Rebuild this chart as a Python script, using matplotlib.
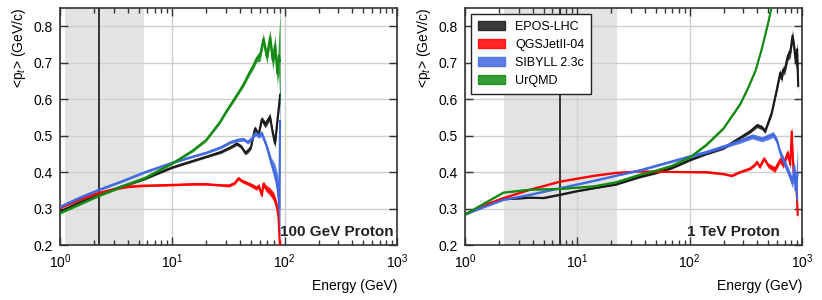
import matplotlib
matplotlib.use('Agg')
import matplotlib.pyplot as plt
from matplotlib.patches import Patch

plt.rcParams['font.family'] = ['Liberation Sans', 'DejaVu Sans']
plt.rcParams['mathtext.fontset'] = 'custom'
plt.rcParams['mathtext.rm'] = 'Liberation Sans'
plt.rcParams['mathtext.it'] = 'Liberation Sans:italic'
plt.rcParams['font.size'] = 10

models = ['EPOS-LHC', 'QGSJetII-04', 'SIBYLL 2.3c', 'UrQMD']
colors = ['#1a1a1a', '#ff0000', '#4169e1', '#128a12']

# ---- 100 GeV proton ----
e100_epos = [1, 1.5, 2.2, 3.5, 5.6, 10, 15, 20, 27, 33, 37.5, 41, 44.5, 47, 50, 54.5, 58.5, 62.6, 67, 74, 78, 82, 86, 89.5, 91]
pt100_epos = [0.292, 0.317, 0.338, 0.36, 0.381, 0.413, 0.43, 0.442, 0.455, 0.468, 0.478, 0.47, 0.453, 0.458, 0.468, 0.52, 0.502, 0.545, 0.53, 0.552, 0.51, 0.478, 0.54, 0.59, 0.612]
err100_epos = [0.003, 0.003, 0.003, 0.003, 0.003, 0.003, 0.003, 0.003, 0.004, 0.004, 0.005, 0.005, 0.006, 0.006, 0.006, 0.007, 0.007, 0.008, 0.009, 0.01, 0.01, 0.012, 0.014, 0.016, 0.02]

e100_qgs = [1, 1.5, 2.2, 3, 4, 5.6, 8, 10, 15, 20, 27, 32, 36, 38.7, 42, 46, 52, 56, 59, 62.6, 64.6, 68, 72, 76, 80, 85, 88, 90.5]
pt100_qgs = [0.302, 0.325, 0.343, 0.353, 0.36, 0.363, 0.364, 0.365, 0.367, 0.367, 0.364, 0.363, 0.37, 0.383, 0.375, 0.37, 0.362, 0.356, 0.362, 0.336, 0.368, 0.356, 0.35, 0.342, 0.332, 0.306, 0.278, 0.2]
err100_qgs = [0.003, 0.003, 0.003, 0.003, 0.003, 0.003, 0.003, 0.003, 0.003, 0.003, 0.003, 0.004, 0.004, 0.005, 0.005, 0.005, 0.006, 0.006, 0.007, 0.007, 0.008, 0.009, 0.01, 0.011, 0.012, 0.014, 0.016, 0.02]

e100_sib = [1, 1.5, 2.2, 3.5, 5.6, 10, 15, 20, 27, 33, 38, 43, 47, 51, 55, 58.7, 62.6, 69, 76, 82, 87, 89.5, 91]
pt100_sib = [0.305, 0.33, 0.351, 0.374, 0.399, 0.426, 0.442, 0.453, 0.468, 0.482, 0.488, 0.49, 0.482, 0.492, 0.506, 0.5, 0.506, 0.471, 0.425, 0.397, 0.355, 0.3, 0.54]
err100_sib = [0.003, 0.003, 0.003, 0.003, 0.003, 0.003, 0.003, 0.003, 0.004, 0.004, 0.005, 0.005, 0.005, 0.006, 0.006, 0.007, 0.008, 0.01, 0.015, 0.025, 0.035, 0.06, 0.32]

e100_urqmd = [1, 1.5, 2.2, 3, 3.5, 5.6, 10, 15, 20, 26.6, 30, 35, 40, 43, 49, 52.6, 56.4, 60.3, 64.5, 69.4, 74, 78.3, 82, 86, 88.5, 91]
pt100_urqmd = [0.288, 0.312, 0.335, 0.351, 0.36, 0.383, 0.424, 0.458, 0.488, 0.538, 0.565, 0.597, 0.625, 0.641, 0.675, 0.692, 0.712, 0.718, 0.765, 0.715, 0.77, 0.705, 0.748, 0.67, 0.72, 0.705]
err100_urqmd = [0.003, 0.003, 0.003, 0.003, 0.003, 0.003, 0.003, 0.004, 0.004, 0.005, 0.005, 0.006, 0.006, 0.007, 0.008, 0.009, 0.01, 0.014, 0.016, 0.018, 0.022, 0.025, 0.028, 0.03, 0.05, 0.14]

# ---- 1 TeV proton ----
e1000_epos = [1, 1.5, 2.2, 3, 3.8, 5, 7, 10, 14, 22, 36, 50, 70, 100, 140, 200, 280, 346, 398, 440, 469, 538, 597, 640, 660, 680, 700, 747, 785, 822, 855, 880, 905, 925]
pt1000_epos = [0.285, 0.307, 0.326, 0.328, 0.33, 0.329, 0.338, 0.348, 0.356, 0.366, 0.387, 0.398, 0.412, 0.433, 0.45, 0.466, 0.494, 0.512, 0.528, 0.522, 0.512, 0.563, 0.627, 0.673, 0.655, 0.682, 0.678, 0.719, 0.727, 0.774, 0.737, 0.7, 0.737, 0.636]
err1000_epos = [0.002, 0.002, 0.002, 0.002, 0.002, 0.002, 0.002, 0.002, 0.002, 0.002, 0.003, 0.003, 0.003, 0.003, 0.003, 0.004, 0.004, 0.005, 0.006, 0.006, 0.006, 0.007, 0.008, 0.01, 0.01, 0.011, 0.012, 0.013, 0.014, 0.016, 0.018, 0.02, 0.02, 0.02]

e1000_qgs = [1, 1.5, 2.2, 3.8, 7, 14, 22, 36, 60, 100, 141, 200, 237, 281, 346, 380, 398, 420, 460, 500, 573, 640, 680, 747, 785, 810, 840, 865, 895, 915]
pt1000_qgs = [0.283, 0.31, 0.329, 0.352, 0.374, 0.39, 0.398, 0.402, 0.401, 0.4, 0.4, 0.395, 0.39, 0.4, 0.41, 0.42, 0.428, 0.414, 0.437, 0.418, 0.407, 0.434, 0.42, 0.453, 0.42, 0.512, 0.398, 0.39, 0.35, 0.283]
err1000_qgs = [0.002, 0.002, 0.002, 0.002, 0.002, 0.002, 0.002, 0.002, 0.002, 0.002, 0.003, 0.003, 0.003, 0.003, 0.004, 0.004, 0.005, 0.005, 0.006, 0.007, 0.008, 0.009, 0.01, 0.01, 0.012, 0.014, 0.015, 0.016, 0.018, 0.02]

e1000_sib = [1, 1.5, 2.2, 3.8, 7, 14, 22, 36, 60, 100, 140, 200, 281, 360, 440, 500, 555, 600, 640, 700, 785, 822, 855, 875, 912]
pt1000_sib = [0.284, 0.305, 0.324, 0.338, 0.356, 0.376, 0.39, 0.405, 0.424, 0.443, 0.455, 0.47, 0.485, 0.498, 0.49, 0.497, 0.503, 0.485, 0.453, 0.425, 0.388, 0.37, 0.416, 0.35, 0.395]
err1000_sib = [0.002, 0.002, 0.002, 0.002, 0.002, 0.002, 0.002, 0.003, 0.003, 0.004, 0.004, 0.005, 0.006, 0.007, 0.007, 0.008, 0.008, 0.009, 0.01, 0.011, 0.013, 0.015, 0.018, 0.025, 0.075]

e1000_urqmd = [1, 1.5, 2.2, 3.8, 7, 14, 22, 36, 50, 70, 100, 141, 200, 281, 330, 385, 440, 500, 560]
pt1000_urqmd = [0.284, 0.315, 0.344, 0.352, 0.354, 0.361, 0.372, 0.393, 0.404, 0.418, 0.44, 0.475, 0.52, 0.586, 0.63, 0.678, 0.74, 0.81, 0.88]
err1000_urqmd = [0.002, 0.002, 0.002, 0.002, 0.002, 0.002, 0.002, 0.002, 0.002, 0.002, 0.002, 0.003, 0.003, 0.003, 0.003, 0.004, 0.004, 0.004, 0.004]

panels = [
    dict(data=[(e100_epos, pt100_epos, err100_epos), (e100_qgs, pt100_qgs, err100_qgs),
               (e100_sib, pt100_sib, err100_sib), (e100_urqmd, pt100_urqmd, err100_urqmd)],
         span=(1.11, 5.6), vline=2.24, label='100 GeV Proton', tx=0.99),
    dict(data=[(e1000_epos, pt1000_epos, err1000_epos), (e1000_qgs, pt1000_qgs, err1000_qgs),
               (e1000_sib, pt1000_sib, err1000_sib), (e1000_urqmd, pt1000_urqmd, err1000_urqmd)],
         span=(2.24, 22.4), vline=7.07, label='1 TeV Proton', tx=0.935),
]

fig = plt.figure(figsize=(8.22, 3.0), dpi=100)
lefts = [0.073, 0.5657]

for i, p in enumerate(panels):
    ax = fig.add_axes([lefts[i], 0.1833, 0.41, 0.79])
    ax.set_xscale('log')
    ax.axvspan(*p['span'], color='0.6', alpha=0.27, lw=0, zorder=0)
    ax.axvline(p['vline'], color='#333333', lw=1.4, zorder=1)
    for (e, pt, err), c in zip(p['data'], colors):
        lo = [v - d for v, d in zip(pt, err)]
        hi = [v + d for v, d in zip(pt, err)]
        ax.fill_between(e, lo, hi, color=c, alpha=0.85, lw=0, zorder=3)
        ax.plot(e, pt, color=c, lw=1.5, zorder=3)
    ax.set_xlim(1, 1000)
    ax.set_ylim(0.2, 0.85)
    ax.set_yticks([0.2, 0.3, 0.4, 0.5, 0.6, 0.7, 0.8])
    ax.set_axisbelow(True)
    ax.grid(True, which='major', color='#cfcfcf', lw=1)
    ax.tick_params(which='both', direction='in', top=True, right=True, color='#333333', width=1)
    ax.tick_params(which='major', length=6, labelsize=10, pad=5)
    ax.tick_params(which='minor', length=3.5)
    for s in ax.spines.values():
        s.set_color('#333333')
        s.set_linewidth(1.2)
    ax.set_ylabel(r'<p$_t$> (GeV/c)', fontsize=10, loc='top', labelpad=4)
    ax.set_xlabel('Energy (GeV)', fontsize=10, loc='right', labelpad=6)
    ax.text(p['tx'], 0.055, p['label'], transform=ax.transAxes, ha='right', va='center',
            fontsize=11, fontweight='bold', color='#222222', zorder=5)
    if i == 1:
        handles = [Patch(facecolor=c, edgecolor=c, alpha=0.85) for c in colors]
        leg = ax.legend(handles, models, loc='upper left', fontsize=9, fancybox=False,
                        framealpha=1, edgecolor='#222222', handlelength=2.2, handleheight=0.75,
                        borderaxespad=0.5, labelspacing=0.5, handletextpad=0.8,
                        borderpad=0.5)
        leg.get_frame().set_linewidth(1.0)
        leg.set_zorder(6)

fig.savefig('out.png', dpi=100)
